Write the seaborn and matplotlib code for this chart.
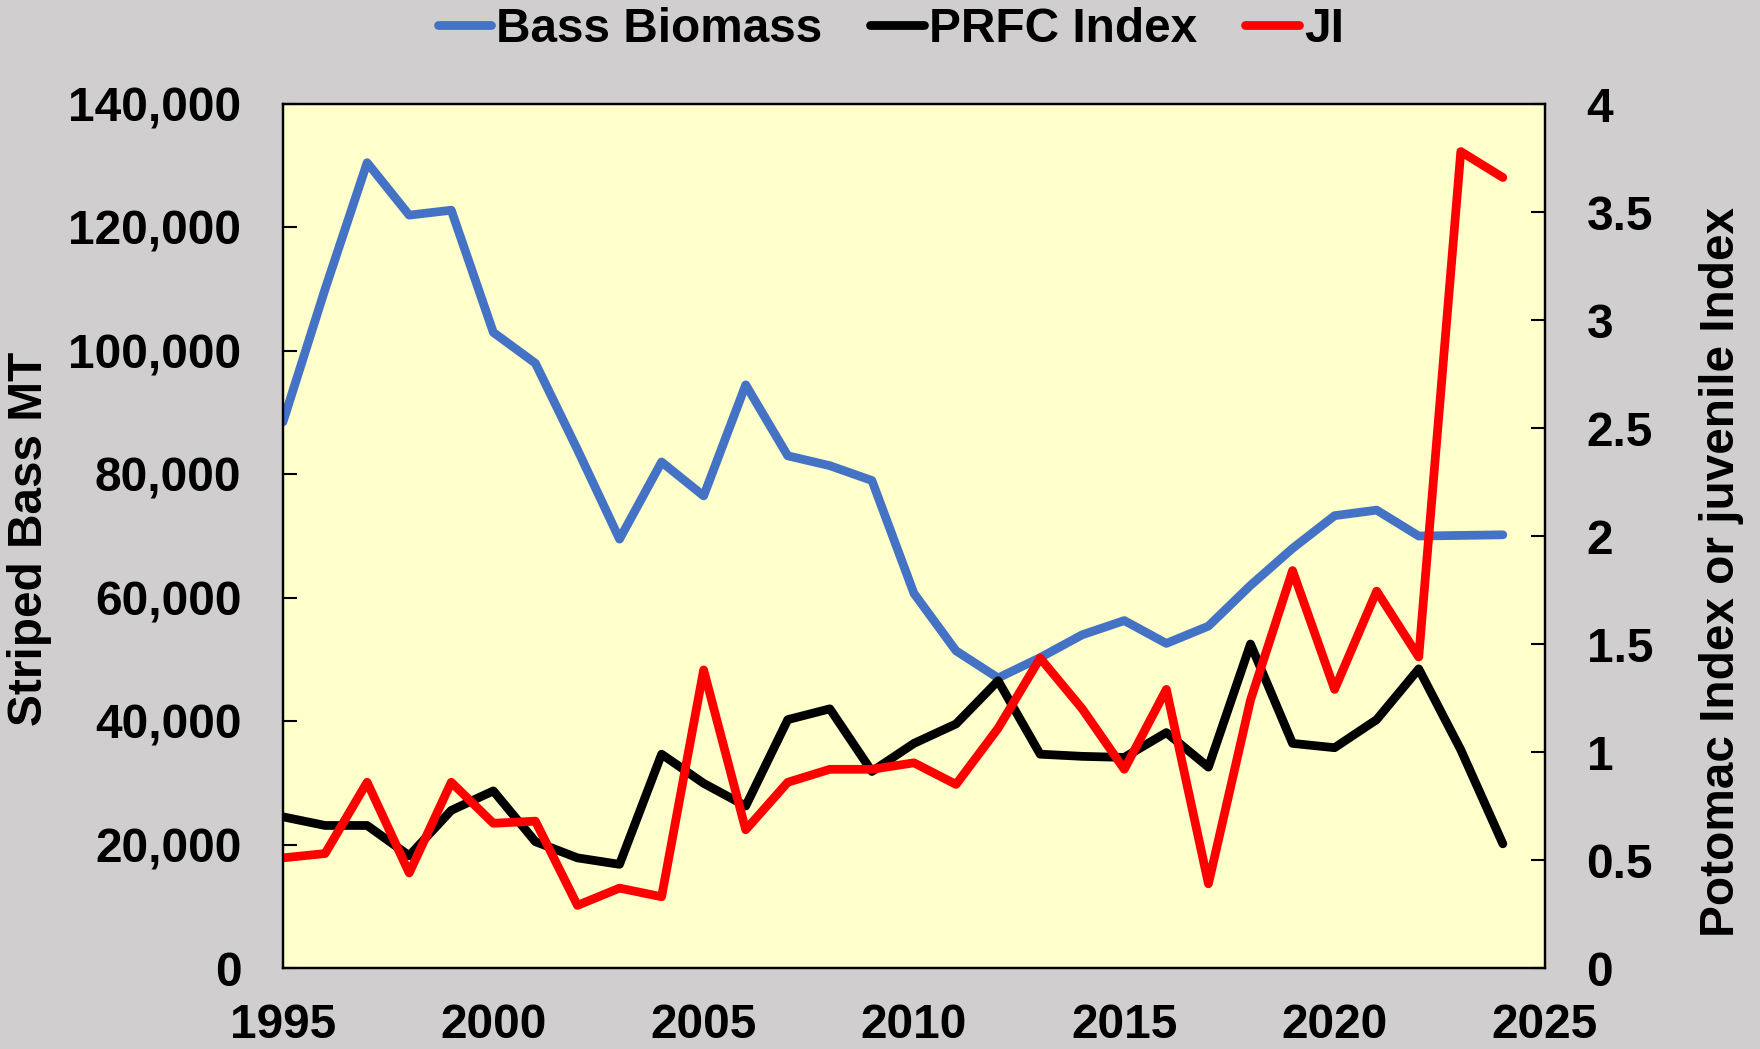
import numpy as np
import pandas as pd
import matplotlib
matplotlib.use("Agg")
import matplotlib.pyplot as plt
import seaborn as sns
from matplotlib.ticker import FuncFormatter, MultipleLocator


# Values
years = list(range(1995, 2025))
bass_biomass = [88500, 110000, 130500, 122000, 122800, 103000, 98000, 84000, 69500, 82000,
                76500, 94500, 83000, 81400, 79000, 60700, 51400, 47000, 50300, 54000,
                56300, 52600, 55400, 62000, 68000, 73300, 74200, 70000, 70100, 70200]
prfc_index = [0.70, 0.66, 0.66, 0.52, 0.73, 0.82, 0.585, 0.51, 0.48, 0.99,
              0.855, 0.75, 1.15, 1.20, 0.91, 1.04, 1.13, 1.33, 0.99, 0.98,
              0.975, 1.09, 0.93, 1.50, 1.04, 1.02, 1.15, 1.385, 1.01, 0.575]
ji = [0.51, 0.53, 0.86, 0.44, 0.86, 0.67, 0.68, 0.29, 0.37, 0.33,
      1.38, 0.64, 0.86, 0.92, 0.92, 0.95, 0.85, 1.11, 1.435, 1.20,
      0.92, 1.29, 0.39, 1.24, 1.84, 1.29, 1.745, 1.44, 3.78, 3.66]

df = pd.DataFrame({'year': years, 'biomass': bass_biomass, 'prfc': prfc_index, 'ji': ji})

sns.set_style('white')
plt.rcParams['font.family'] = ['Liberation Sans', 'DejaVu Sans']
plt.rcParams['font.weight'] = 'bold'
plt.rcParams['text.color'] = 'black'
plt.rcParams['axes.labelcolor'] = 'black'
plt.rcParams['xtick.color'] = 'black'
plt.rcParams['ytick.color'] = 'black'

FS = 34.4
bg = '#D0CECE'

fig = plt.figure(figsize=(17.6, 10.49), dpi=100, facecolor=bg)
ax = fig.add_axes([0.1608, 0.0772, 0.7170, 0.8236])
ax.set_facecolor('#FFFFCC')
ax2 = ax.twinx()

line_kw = dict(linewidth=6.3, solid_capstyle='round', solid_joinstyle='round', legend=False)
sns.lineplot(data=df, x='year', y='biomass', ax=ax, color='#4472C4', **line_kw)
sns.lineplot(data=df, x='year', y='prfc', ax=ax2, color='black', **line_kw)
sns.lineplot(data=df, x='year', y='ji', ax=ax2, color='#FF0000', **line_kw)

ax.set_xlim(1995, 2025)
ax.set_ylim(0, 140000)
ax2.set_ylim(0, 4)
ax.xaxis.set_major_locator(MultipleLocator(5))
ax.yaxis.set_major_locator(MultipleLocator(20000))
ax2.yaxis.set_major_locator(MultipleLocator(0.5))
ax.yaxis.set_major_formatter(FuncFormatter(lambda v, p: f'{int(v):,}'))
ax2.yaxis.set_major_formatter(FuncFormatter(lambda v, p: f'{v:g}'))

ax.tick_params(axis='y', direction='in', length=10, width=1.5, labelsize=FS, pad=30)
ax.tick_params(axis='x', direction='in', length=10, width=1.5, labelsize=FS, pad=25, top=False)
ax2.tick_params(axis='y', direction='in', length=10, width=1.5, labelsize=FS, pad=30)
for a in (ax, ax2):
    for s in a.spines.values():
        s.set_visible(True)
        s.set_color('black')
        s.set_linewidth(1.6)
    for lab in a.get_xticklabels() + a.get_yticklabels():
        lab.set_fontweight('bold')

ax.set_xlabel('')
ax.set_ylabel('Striped Bass MT', fontsize=FS, fontweight='bold')
ax.yaxis.set_label_coords(-0.183, 0.497)
ax2.set_ylabel('Potomac Index or juvenile Index', fontsize=FS, fontweight='bold')
ax2.yaxis.set_label_coords(1.122, 0.458)

handles = [ax.get_lines()[0], ax2.get_lines()[0], ax2.get_lines()[1]]
fig.legend(handles, ['Bass Biomass', 'PRFC Index', 'JI'], loc='center', bbox_to_anchor=(0.506, 0.972),
           ncol=3, frameon=False, prop={'size': FS, 'weight': 'bold'},
           handlelength=1.13, handletextpad=0.1, columnspacing=1.0)

fig.savefig('out.png', dpi=100, facecolor=bg)
